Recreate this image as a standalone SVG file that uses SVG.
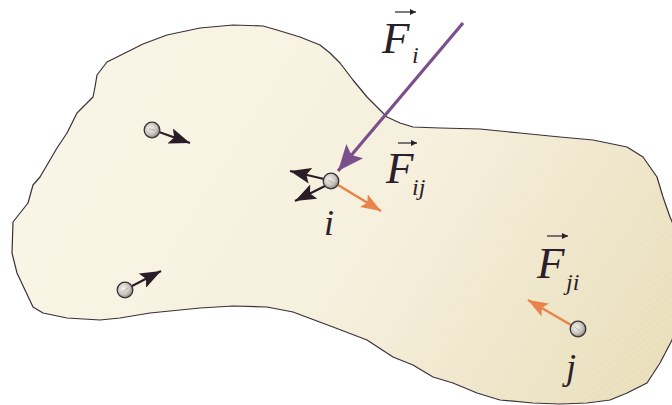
<svg xmlns="http://www.w3.org/2000/svg" width="672" height="405" viewBox="0 0 672 405">
  <defs>
    <linearGradient id="bodyFill" gradientUnits="userSpaceOnUse" x1="120" y1="60" x2="672" y2="405">
      <stop offset="0" stop-color="#f9f5e6"/>
      <stop offset="0.5" stop-color="#f5efdc"/>
      <stop offset="1" stop-color="#e8ddb6"/>
    </linearGradient>
    <pattern id="hatch" patternUnits="userSpaceOnUse" width="5" height="5" patternTransform="rotate(-35)">
      <line x1="0" y1="0" x2="5" y2="0" stroke="#ffffff" stroke-width="1" stroke-opacity="0.35"/>
    </pattern>
    <linearGradient id="hatchFade" gradientUnits="userSpaceOnUse" x1="250" y1="100" x2="672" y2="405">
      <stop offset="0" stop-color="#000"/>
      <stop offset="1" stop-color="#fff"/>
    </linearGradient>
    <mask id="hatchMask">
      <rect x="0" y="0" width="672" height="405" fill="url(#hatchFade)"/>
    </mask>
    <radialGradient id="ball" cx="0.4" cy="0.4" r="0.65">
      <stop offset="0" stop-color="#f4f2ee"/>
      <stop offset="0.6" stop-color="#c9c4bd"/>
      <stop offset="1" stop-color="#857d76"/>
    </radialGradient>
    <marker id="hBlackBig" viewBox="0 0 10 10" refX="10" refY="5" markerWidth="21" markerHeight="16" markerUnits="userSpaceOnUse" orient="auto" preserveAspectRatio="none">
      <path d="M0,0 L10,5 L0,10 L2,5 Z" fill="#2b1d27"/>
    </marker>
    <marker id="hOrange" viewBox="0 0 10 10" refX="10" refY="5" markerWidth="20" markerHeight="15" markerUnits="userSpaceOnUse" orient="auto" preserveAspectRatio="none">
      <path d="M0,0 L10,5 L0,10 L2,5 Z" fill="#e8844a"/>
    </marker>
    <marker id="hPurple" viewBox="0 0 10 10" refX="10" refY="5" markerWidth="26" markerHeight="22" markerUnits="userSpaceOnUse" orient="auto" preserveAspectRatio="none">
      <path d="M0,0 L10,5 L0,10 L2,5 Z" fill="#7a4f8c"/>
    </marker>
    <marker id="hVec" viewBox="0 0 10 10" refX="10" refY="5" markerWidth="6" markerHeight="6" markerUnits="userSpaceOnUse" orient="auto">
      <path d="M0,0 L10,5 L0,10 Z" fill="#2a1f2a"/>
    </marker>
  </defs>
  <style>
    .outline { stroke: #3a2e38; stroke-width: 1.2; stroke-linejoin: round; }
    .ball { fill: url(#ball); stroke: #3b3038; stroke-width: 1.3; }
    .shine { stroke: #b7b0a8; stroke-width: 1; }
    .blk { stroke: #2b1d27; stroke-width: 2.2; fill: none; }
    .org { stroke: #e8844a; stroke-width: 2.6; fill: none; }
    .pur { stroke: #7a4f8c; stroke-width: 3.2; fill: none; }
    .vec { stroke: #2a1f2a; stroke-width: 1.2; fill: none; }
    .lbl { font-family: "Liberation Serif", "Times New Roman", serif; font-style: italic; fill: #2a1f2a; }
    .big { font-size: 45px; }
    .sub { font-size: 24px; }
    .idx { font-size: 36px; }
  </style>

  <g id="body">
    <path id="bodyShape" class="outline" fill="url(#bodyFill)" d="M97,75 L107,62 L127,52 L143,44 L167,35 L200,28 L233,25 L263,26 L277,30 L300,37 L320,45 L330,53 L340,63 L353,80 L367,97 L378,108 L387,117 L400,123 L413,127 L440,128 L480,129 L520,133 L560,137 L593,140 L627,147 L643,157 L657,177 L663,197 L670,217 L680,240 L685,300 L672,340 L660,363 L647,383 L627,393 L610,400 L587,403 L560,404 L533,403 L500,400 L477,393 L453,383 L433,377 L413,365 L393,357 L367,340 L333,327 L293,312 L267,307 L233,306 L200,308 L150,313 L120,318 L100,320 L67,318 L43,313 L33,307 L17,273 L12,253 L13,222 L28,203 L33,185 L40,177 L50,160 L57,148 L67,133 L77,113 L90,100 L93,97 L95,87 Z"/>
    <path d="M97,75 L107,62 L127,52 L143,44 L167,35 L200,28 L233,25 L263,26 L277,30 L300,37 L320,45 L330,53 L340,63 L353,80 L367,97 L378,108 L387,117 L400,123 L413,127 L440,128 L480,129 L520,133 L560,137 L593,140 L627,147 L643,157 L657,177 L663,197 L670,217 L680,240 L685,300 L672,340 L660,363 L647,383 L627,393 L610,400 L587,403 L560,404 L533,403 L500,400 L477,393 L453,383 L433,377 L413,365 L393,357 L367,340 L333,327 L293,312 L267,307 L233,306 L200,308 L150,313 L120,318 L100,320 L67,318 L43,313 L33,307 L17,273 L12,253 L13,222 L28,203 L33,185 L40,177 L50,160 L57,148 L67,133 L77,113 L90,100 L93,97 L95,87 Z" fill="url(#hatch)" mask="url(#hatchMask)" stroke="none"/>
  </g>

  <g id="connectors">
    <line class="blk" x1="159" y1="132" x2="190" y2="143" marker-end="url(#hBlackBig)"/>
    <line class="blk" x1="132" y1="286" x2="161" y2="271" marker-end="url(#hBlackBig)"/>
    <line class="blk" x1="324" y1="179" x2="290" y2="171" marker-end="url(#hBlackBig)"/>
    <line class="blk" x1="325" y1="186" x2="295" y2="201" marker-end="url(#hBlackBig)"/>
    <line class="org" x1="338" y1="185" x2="381" y2="211" marker-end="url(#hOrange)"/>
    <line class="org" x1="571" y1="325" x2="528" y2="300" marker-end="url(#hOrange)"/>
    <line class="pur" x1="463" y1="23" x2="338" y2="171" marker-end="url(#hPurple)"/>
  </g>

  <g id="particle-a">
    <circle class="ball" cx="152" cy="130" r="7.8"/>
    <line class="shine" x1="149" y1="129" x2="155" y2="130"/>
  </g>
  <g id="particle-b">
    <circle class="ball" cx="125" cy="290" r="7.8"/>
    <line class="shine" x1="123" y1="292" x2="128" y2="288"/>
  </g>
  <g id="particle-i">
    <circle class="ball" cx="331" cy="181" r="7.8"/>
    <line class="shine" x1="328" y1="180" x2="333" y2="183"/>
    <text class="lbl idx" x="324" y="235">i</text>
  </g>
  <g id="particle-j">
    <circle class="ball" cx="578" cy="329" r="7.8"/>
    <line class="shine" x1="575" y1="327" x2="580" y2="331"/>
    <text class="lbl idx" x="566" y="379">j</text>
  </g>

  <g id="label-Fi">
    <line class="vec" x1="395" y1="12" x2="416" y2="12" marker-end="url(#hVec)"/>
    <text class="lbl big" x="382" y="53">F</text>
    <text class="lbl sub" x="412" y="63">i</text>
  </g>
  <g id="label-Fij">
    <line class="vec" x1="398" y1="143" x2="417" y2="143" marker-end="url(#hVec)"/>
    <text class="lbl big" x="386" y="183">F</text>
    <text class="lbl sub" x="412" y="195">ij</text>
  </g>
  <g id="label-Fji">
    <line class="vec" x1="547" y1="236" x2="568" y2="236" marker-end="url(#hVec)"/>
    <text class="lbl big" x="537" y="278">F</text>
    <text class="lbl sub" x="566" y="290">ji</text>
  </g>
</svg>
